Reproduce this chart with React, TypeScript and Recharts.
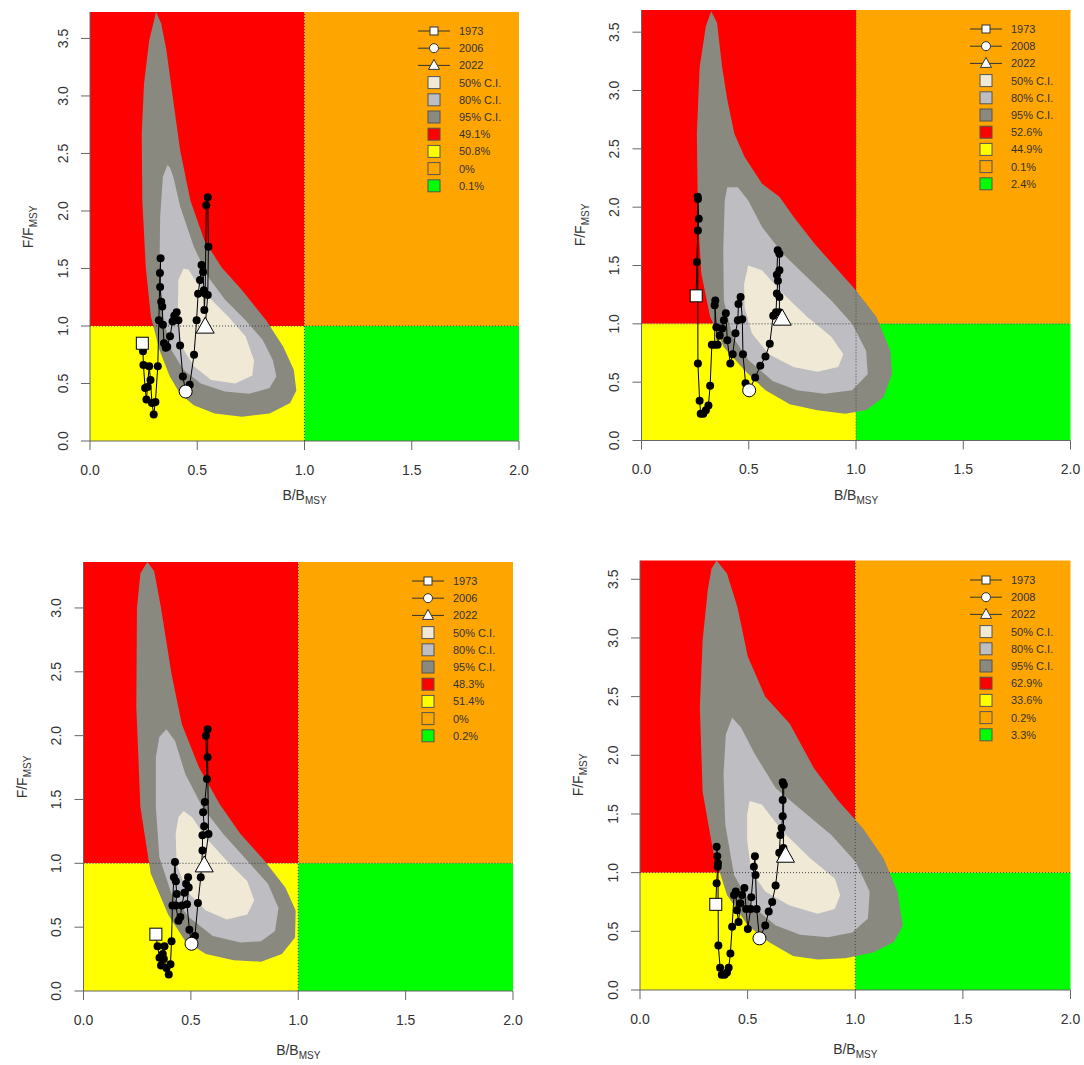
import React from 'react';
import { ScatterChart, Scatter, XAxis, YAxis, ReferenceArea } from 'recharts';

type Pt = [number, number];
type Tp = [number, number, string?];

const xTicks = [0, 0.5, 1, 1.5, 2];
const yTicksTall = [0, 0.5, 1, 1.5, 2, 2.5, 3, 3.5];
const yTicksShort = [0, 0.5, 1, 1.5, 2, 2.5, 3];
const ciLabels = ['50% C.I.', '80% C.I.', '95% C.I.'];

// top-left
const p1Years = ['1973', '2006', '2022'];
const p1Zones = ['49.1%', '50.8%', '0%', '0.1%'];
const p1Ci95: Pt[] = [
  [0.308, 3.73], [0.332, 3.63], [0.356, 3.4], [0.388, 2.96], [0.42, 2.53], [0.468, 2.09], [0.532, 1.75],
  [0.613, 1.51], [0.709, 1.31], [0.821, 1.05], [0.901, 0.82], [0.95, 0.62], [0.962, 0.44], [0.933, 0.33],
  [0.837, 0.24], [0.709, 0.21], [0.581, 0.24], [0.484, 0.31], [0.42, 0.41], [0.372, 0.56], [0.324, 0.79],
  [0.284, 1.08], [0.26, 1.51], [0.244, 2.09], [0.241, 2.67], [0.252, 3.11], [0.276, 3.48],
];
const p1Ci80: Pt[] = [
  [0.361, 2.4], [0.372, 2.38], [0.388, 2.3], [0.42, 2.04], [0.484, 1.69], [0.549, 1.43], [0.629, 1.23],
  [0.725, 1.05], [0.805, 0.88], [0.853, 0.7], [0.869, 0.56], [0.837, 0.46], [0.741, 0.41], [0.629, 0.43],
  [0.516, 0.5], [0.436, 0.62], [0.38, 0.79], [0.34, 1.08], [0.324, 1.51], [0.327, 1.95], [0.34, 2.3],
];
const p1Ci50: Pt[] = [
  [0.436, 1.5], [0.46, 1.49], [0.5, 1.37], [0.565, 1.23], [0.645, 1.08], [0.725, 0.91], [0.765, 0.7],
  [0.757, 0.57], [0.677, 0.5], [0.565, 0.53], [0.484, 0.65], [0.428, 0.82], [0.409, 1.08], [0.412, 1.4],
];
const p1Traj: Tp[] = [
  [0.244, 0.85, 's'], [0.247, 0.78], [0.249, 0.66], [0.257, 0.46], [0.263, 0.36], [0.268, 0.47], [0.276, 0.65],
  [0.282, 0.53], [0.289, 0.33], [0.297, 0.23], [0.305, 0.34], [0.316, 0.65], [0.321, 1.05], [0.326, 1.46],
  [0.329, 1.59], [0.327, 1.34], [0.332, 1.21], [0.337, 1.17], [0.34, 1.01], [0.345, 0.85], [0.353, 0.81],
  [0.36, 0.82], [0.373, 0.91], [0.385, 1.04], [0.393, 1.09], [0.404, 1.12], [0.412, 1.05], [0.42, 0.83],
  [0.433, 0.56], [0.446, 0.43, 'm'], [0.465, 0.49], [0.485, 0.75], [0.497, 1.05], [0.504, 1.28], [0.513, 1.4],
  [0.52, 1.53], [0.527, 1.47], [0.531, 1.31], [0.533, 1.14], [0.537, 1.28], [0.542, 2.05], [0.549, 2.12],
  [0.552, 1.69], [0.549, 1.27], [0.537, 0.99, 'e'],
];

// top-right
const p2Years = ['1973', '2008', '2022'];
const p2Zones = ['52.6%', '44.9%', '0.1%', '2.4%'];
const p2Ci95: Pt[] = [
  [0.325, 3.68], [0.352, 3.58], [0.376, 3.2], [0.4, 2.92], [0.433, 2.63], [0.481, 2.43], [0.562, 2.2],
  [0.643, 2.09], [0.708, 1.92], [0.805, 1.69], [0.902, 1.49], [0.998, 1.29], [1.095, 1.06], [1.16, 0.77],
  [1.168, 0.57], [1.128, 0.37], [1.047, 0.26], [0.95, 0.23], [0.82, 0.26], [0.691, 0.31], [0.578, 0.43],
  [0.481, 0.6], [0.384, 0.8], [0.32, 1.06], [0.279, 1.43], [0.263, 1.92], [0.258, 2.63], [0.271, 3.2], [0.3, 3.55],
];
const p2Ci80: Pt[] = [
  [0.4, 2.17], [0.449, 2.17], [0.497, 2.06], [0.562, 1.83], [0.659, 1.6], [0.772, 1.4], [0.885, 1.2],
  [0.982, 1.0], [1.047, 0.77], [1.055, 0.57], [0.982, 0.43], [0.853, 0.4], [0.724, 0.43], [0.611, 0.51],
  [0.498, 0.69], [0.425, 0.89], [0.384, 1.2], [0.381, 1.63], [0.388, 2.06],
];
const p2Ci50: Pt[] = [
  [0.497, 1.5], [0.562, 1.46], [0.659, 1.26], [0.772, 1.06], [0.885, 0.89], [0.941, 0.74], [0.917, 0.63],
  [0.82, 0.59], [0.708, 0.63], [0.594, 0.74], [0.514, 0.92], [0.481, 1.14], [0.478, 1.34],
];
const p2Traj: Tp[] = [
  [0.255, 1.24, 's'], [0.258, 1.53], [0.263, 1.8], [0.267, 1.9], [0.263, 2.07], [0.262, 2.09], [0.263, 0.66],
  [0.271, 0.34], [0.276, 0.23], [0.288, 0.23], [0.3, 0.26], [0.312, 0.3], [0.32, 0.47], [0.328, 0.82],
  [0.341, 0.82], [0.344, 1.2], [0.341, 1.16], [0.349, 0.97], [0.355, 0.82], [0.365, 0.9], [0.376, 0.96],
  [0.384, 1.03], [0.393, 1.09], [0.4, 0.86], [0.414, 0.66], [0.425, 0.74], [0.438, 0.92], [0.449, 1.03],
  [0.452, 1.17], [0.462, 1.23], [0.47, 1.04], [0.473, 0.74], [0.485, 0.49], [0.502, 0.43, 'm'], [0.53, 0.54],
  [0.554, 0.64], [0.578, 0.72], [0.598, 0.83], [0.614, 1.07], [0.627, 1.1], [0.631, 1.26], [0.636, 1.37],
  [0.631, 1.42], [0.635, 1.63], [0.643, 1.6], [0.643, 1.46], [0.643, 1.23], [0.643, 1.1], [0.656, 1.04, 'e'],
];

// bottom-left
const p3Years = ['1973', '2006', '2022'];
const p3Zones = ['48.3%', '51.4%', '0%', '0.2%'];
const p3Ci95: Pt[] = [
  [0.297, 3.36], [0.329, 3.29], [0.361, 3.0], [0.41, 2.48], [0.458, 2.09], [0.538, 1.75], [0.635, 1.46],
  [0.731, 1.23], [0.843, 1.02], [0.94, 0.81], [0.988, 0.63], [0.985, 0.42], [0.924, 0.29], [0.827, 0.23],
  [0.699, 0.24], [0.57, 0.29], [0.474, 0.39], [0.394, 0.6], [0.313, 0.92], [0.265, 1.44], [0.246, 2.22],
  [0.249, 3.0], [0.265, 3.27],
];
const p3Ci80: Pt[] = [
  [0.386, 2.05], [0.426, 1.96], [0.474, 1.7], [0.554, 1.44], [0.651, 1.23], [0.763, 1.02], [0.859, 0.84],
  [0.908, 0.65], [0.892, 0.47], [0.827, 0.39], [0.731, 0.38], [0.602, 0.43], [0.49, 0.58], [0.41, 0.76],
  [0.353, 1.05], [0.337, 1.44], [0.337, 1.83], [0.353, 1.99],
];
const p3Ci50: Pt[] = [
  [0.466, 1.41], [0.506, 1.36], [0.57, 1.2], [0.667, 1.02], [0.763, 0.86], [0.795, 0.71], [0.763, 0.6],
  [0.667, 0.56], [0.57, 0.63], [0.482, 0.78], [0.434, 0.99], [0.429, 1.23], [0.442, 1.36],
];
const p3Traj: Tp[] = [
  [0.337, 0.445, 's'], [0.345, 0.35], [0.354, 0.26], [0.361, 0.2], [0.369, 0.29], [0.377, 0.35], [0.374, 0.25],
  [0.386, 0.18], [0.397, 0.13], [0.405, 0.21], [0.41, 0.39], [0.414, 0.67], [0.421, 0.89], [0.426, 1.01],
  [0.43, 0.86], [0.434, 0.76], [0.43, 0.67], [0.442, 0.55], [0.451, 0.58], [0.458, 0.67], [0.47, 0.77],
  [0.478, 0.84], [0.487, 0.89], [0.49, 0.81], [0.482, 0.68], [0.493, 0.48], [0.503, 0.37, 'm'], [0.519, 0.43],
  [0.533, 0.69], [0.546, 0.89], [0.554, 1.1], [0.554, 1.22], [0.562, 1.29], [0.557, 1.4], [0.565, 1.48],
  [0.575, 1.66], [0.57, 2.0], [0.578, 2.05], [0.578, 1.83], [0.582, 1.23], [0.562, 0.98, 'e'],
];

// bottom-right
const p4Years = ['1973', '2008', '2022'];
const p4Zones = ['62.9%', '33.6%', '0.2%', '3.3%'];
const p4Ci95: Pt[] = [
  [0.356, 3.66], [0.404, 3.55], [0.453, 3.26], [0.501, 2.84], [0.582, 2.5], [0.695, 2.27], [0.808, 1.89],
  [0.922, 1.61], [1.035, 1.38], [1.132, 1.12], [1.196, 0.84], [1.221, 0.55], [1.18, 0.41], [1.083, 0.32],
  [0.954, 0.27], [0.825, 0.26], [0.711, 0.29], [0.598, 0.41], [0.501, 0.55], [0.404, 0.81], [0.34, 1.18],
  [0.291, 1.69], [0.278, 2.41], [0.291, 2.98], [0.315, 3.41], [0.332, 3.59],
];
const p4Ci80: Pt[] = [
  [0.428, 2.32], [0.469, 2.24], [0.534, 2.01], [0.631, 1.72], [0.76, 1.52], [0.889, 1.32], [1.002, 1.09],
  [1.067, 0.84], [1.059, 0.61], [0.986, 0.49], [0.873, 0.45], [0.744, 0.47], [0.631, 0.55], [0.517, 0.72],
  [0.437, 0.98], [0.396, 1.41], [0.388, 1.84], [0.399, 2.18],
];
const p4Ci50: Pt[] = [
  [0.509, 1.61], [0.566, 1.58], [0.663, 1.35], [0.792, 1.12], [0.905, 0.95], [0.93, 0.81], [0.905, 0.69],
  [0.825, 0.65], [0.695, 0.72], [0.582, 0.84], [0.517, 1.01], [0.498, 1.27], [0.498, 1.5],
];
const p4Traj: Tp[] = [
  [0.352, 0.73, 's'], [0.356, 0.91], [0.361, 1.05], [0.359, 1.14], [0.356, 1.22], [0.362, 1.08], [0.364, 0.38],
  [0.372, 0.19], [0.38, 0.13], [0.393, 0.13], [0.404, 0.15], [0.412, 0.19], [0.42, 0.31], [0.428, 0.54],
  [0.437, 0.81], [0.445, 0.84], [0.45, 0.68], [0.458, 0.58], [0.466, 0.74], [0.474, 0.81], [0.485, 0.87],
  [0.493, 0.69], [0.501, 0.52], [0.514, 0.69], [0.517, 0.79], [0.529, 1.05], [0.534, 1.14], [0.537, 0.98],
  [0.542, 0.69], [0.555, 0.44, 'm'], [0.582, 0.55], [0.598, 0.67], [0.614, 0.75], [0.63, 0.89], [0.647, 1.17],
  [0.652, 1.32], [0.658, 1.38], [0.663, 1.48], [0.663, 1.62], [0.663, 1.77], [0.668, 1.75], [0.666, 1.21],
  [0.676, 1.14, 'e'],
];

const B_REF = 1;
const F_REF = 1;
const X_MAX = 2;

const ciColors = ['#efe9d6', '#bdbdc2', '#8a8980'];
const zoneColors = ['#ff0000', '#ffff00', '#ffa500', '#00ff00'];
const FONT = '"Liberation Sans", Arial, Helvetica, sans-serif';

const toPts = (a: Pt[] | Tp[]) => a.map((p) => ({ x: p[0], y: p[1] }));
const pick = (a: Tp[], tag: string) => toPts(a.filter((p) => p[2] === tag));
const fmt = (v: number) => v.toFixed(1);

const noShape = () => <g />;
const dotShape = (p: any) => <circle cx={p.cx} cy={p.cy} r={4} fill="#000" />;
const squareShape = (p: any) => (
  <rect x={p.cx - 6} y={p.cy - 6} width={12} height={12} fill="#fff" stroke="#000" strokeWidth={1} />
);
const circleShape = (p: any) => <circle cx={p.cx} cy={p.cy} r={6.5} fill="#fff" stroke="#000" strokeWidth={1} />;
const triShape = (p: any) => (
  <polygon
    points={`${p.cx},${p.cy - 10} ${p.cx - 9},${p.cy + 6} ${p.cx + 9},${p.cy + 6}`}
    fill="#fff"
    stroke="#000"
    strokeWidth={1}
  />
);

const yTick = (t: any) => (
  <text
    transform={`translate(${t.x - 16},${t.y}) rotate(-90)`}
    textAnchor="middle"
    dy="0.35em"
    fontSize={14}
    fill="#333"
  >
    {fmt(t.payload.value)}
  </text>
);

function KobeLegend({ years, zones }: { years: string[]; zones: string[] }) {
  const rows = [...years, ...ciLabels, ...zones];
  const boxFills = [...ciColors, ...zoneColors];
  return (
    <svg width={110} height={180} style={{ position: 'absolute', left: 0, top: 0, overflow: 'visible' }}>
      {rows.map((label, i) => {
        const cy = 14 + i * 17.2;
        let sym: React.ReactNode;
        if (i < 3) {
          sym = (
            <g>
              <line x1={9} x2={41} y1={cy} y2={cy} stroke="#333" strokeWidth={1} />
              {i === 0 && <rect x={21} y={cy - 4} width={8} height={8} fill="#fff" stroke="#333" />}
              {i === 1 && <circle cx={25} cy={cy} r={4.5} fill="#fff" stroke="#333" />}
              {i === 2 && <polygon points={`25,${cy - 6} 19.5,${cy + 4} 30.5,${cy + 4}`} fill="#fff" stroke="#333" />}
            </g>
          );
        } else {
          sym = <rect x={19} y={cy - 6} width={12} height={12} fill={boxFills[i - 3]} stroke="#555" strokeWidth={1} />;
        }
        return (
          <g key={label + i}>
            {sym}
            <text x={50} y={cy} dominantBaseline="central" fontSize={11} fill="#333">
              {label}
            </text>
          </g>
        );
      })}
    </svg>
  );
}

type PanelProps = {
  left: number;
  top: number;
  width: number;
  height: number;
  plot: { l: number; t: number; r: number; b: number };
  titleGap: number;
  yMax: number;
  yTicks: number[];
  ci50: Pt[];
  ci80: Pt[];
  ci95: Pt[];
  traj: Tp[];
  years: string[];
  zones: string[];
};

function KobePanel({ left, top, width, height, plot, titleGap, yMax, yTicks, ci50, ci80, ci95, traj, years, zones }: PanelProps) {
  const { l, t, r, b } = plot;
  const vLine = [{ x: B_REF, y: 0 }, { x: B_REF, y: yMax }];
  const hLine = [{ x: 0, y: F_REF }, { x: X_MAX, y: F_REF }];
  return (
    <div style={{ position: 'absolute', left, top, width, height }}>
      <ScatterChart width={width} height={height} margin={{ top: t, right: width - r, bottom: 0, left: 0 }}>
        <XAxis
          type="number"
          dataKey="x"
          domain={[0, X_MAX]}
          ticks={xTicks}
          interval={0}
          allowDataOverflow
          tickFormatter={fmt}
          height={height - b}
          tickSize={9}
          tickMargin={15}
          axisLine={{ stroke: '#666' }}
          tickLine={{ stroke: '#666' }}
          tick={{ fontSize: 14, fill: '#333' }}
        />
        <YAxis
          type="number"
          dataKey="y"
          domain={[0, yMax]}
          ticks={yTicks}
          interval={0}
          allowDataOverflow
          width={l}
          tickSize={9}
          axisLine={{ stroke: '#666' }}
          tickLine={{ stroke: '#666' }}
          tick={yTick}
        />
        <ReferenceArea x1={0} x2={B_REF} y1={F_REF} y2={yMax} fill={zoneColors[0]} fillOpacity={1} stroke="none" />
        <ReferenceArea x1={0} x2={B_REF} y1={0} y2={F_REF} fill={zoneColors[1]} fillOpacity={1} stroke="none" />
        <ReferenceArea x1={B_REF} x2={X_MAX} y1={F_REF} y2={yMax} fill={zoneColors[2]} fillOpacity={1} stroke="none" />
        <ReferenceArea x1={B_REF} x2={X_MAX} y1={0} y2={F_REF} fill={zoneColors[3]} fillOpacity={1} stroke="none" />
        <Scatter data={toPts(ci95)} shape={noShape} line={{ fill: ciColors[2], stroke: 'none' }} lineType="joint" lineJointType="linearClosed" isAnimationActive={false} />
        <Scatter data={toPts(ci80)} shape={noShape} line={{ fill: ciColors[1], stroke: 'none' }} lineType="joint" lineJointType="linearClosed" isAnimationActive={false} />
        <Scatter data={toPts(ci50)} shape={noShape} line={{ fill: ciColors[0], stroke: 'none' }} lineType="joint" lineJointType="linearClosed" isAnimationActive={false} />
        <Scatter data={vLine} shape={noShape} line={{ stroke: '#444', strokeWidth: 1, strokeDasharray: '1 2' }} lineType="joint" isAnimationActive={false} />
        <Scatter data={hLine} shape={noShape} line={{ stroke: '#444', strokeWidth: 1, strokeDasharray: '1 2' }} lineType="joint" isAnimationActive={false} />
        <Scatter data={toPts(traj)} shape={dotShape} line={{ stroke: '#000', strokeWidth: 1 }} lineType="joint" fill="#000" isAnimationActive={false} />
        <Scatter data={pick(traj, 's')} shape={squareShape} isAnimationActive={false} />
        <Scatter data={pick(traj, 'm')} shape={circleShape} isAnimationActive={false} />
        <Scatter data={pick(traj, 'e')} shape={triShape} isAnimationActive={false} />
      </ScatterChart>
      <div
        style={{
          position: 'absolute',
          left: l - 62,
          top: (t + b) / 2,
          transform: 'translate(-50%, -50%) rotate(-90deg)',
          whiteSpace: 'nowrap',
          fontSize: 14,
          lineHeight: 1,
          color: '#333',
        }}
      >
        F/F<span style={{ fontSize: 10, position: 'relative', top: 4 }}>MSY</span>
      </div>
      <div
        style={{
          position: 'absolute',
          left: (l + r) / 2,
          top: b + titleGap,
          transform: 'translate(-50%, -50%)',
          whiteSpace: 'nowrap',
          fontSize: 14,
          lineHeight: 1,
          color: '#333',
        }}
      >
        B/B<span style={{ fontSize: 10, position: 'relative', top: 4 }}>MSY</span>
      </div>
      <div style={{ position: 'absolute', left: r - 110, top: t + 5 }}>
        <KobeLegend years={years} zones={zones} />
      </div>
    </div>
  );
}

export default function App() {
  return (
    <div style={{ position: 'absolute', left: 0, top: 0, width: 1084, height: 1065, background: '#fff', fontFamily: FONT }}>
      <KobePanel
        left={0} top={0} width={540} height={500}
        plot={{ l: 90, t: 12, r: 519, b: 441 }} titleGap={54}
        yMax={3.73} yTicks={yTicksTall}
        ci50={p1Ci50} ci80={p1Ci80} ci95={p1Ci95} traj={p1Traj}
        years={p1Years} zones={p1Zones}
      />
      <KobePanel
        left={545} top={0} width={539} height={500}
        plot={{ l: 96.5, t: 10, r: 525.5, b: 440.5 }} titleGap={54}
        yMax={3.69} yTicks={yTicksTall}
        ci50={p2Ci50} ci80={p2Ci80} ci95={p2Ci95} traj={p2Traj}
        years={p2Years} zones={p2Zones}
      />
      <KobePanel
        left={0} top={540} width={540} height={525}
        plot={{ l: 83.5, t: 22, r: 513, b: 451 }} titleGap={59}
        yMax={3.36} yTicks={yTicksShort}
        ci50={p3Ci50} ci80={p3Ci80} ci95={p3Ci95} traj={p3Traj}
        years={p3Years} zones={p3Zones}
      />
      <KobePanel
        left={545} top={540} width={539} height={525}
        plot={{ l: 95, t: 20.5, r: 525.5, b: 450 }} titleGap={59}
        yMax={3.66} yTicks={yTicksTall}
        ci50={p4Ci50} ci80={p4Ci80} ci95={p4Ci95} traj={p4Traj}
        years={p4Years} zones={p4Zones}
      />
    </div>
  );
}
